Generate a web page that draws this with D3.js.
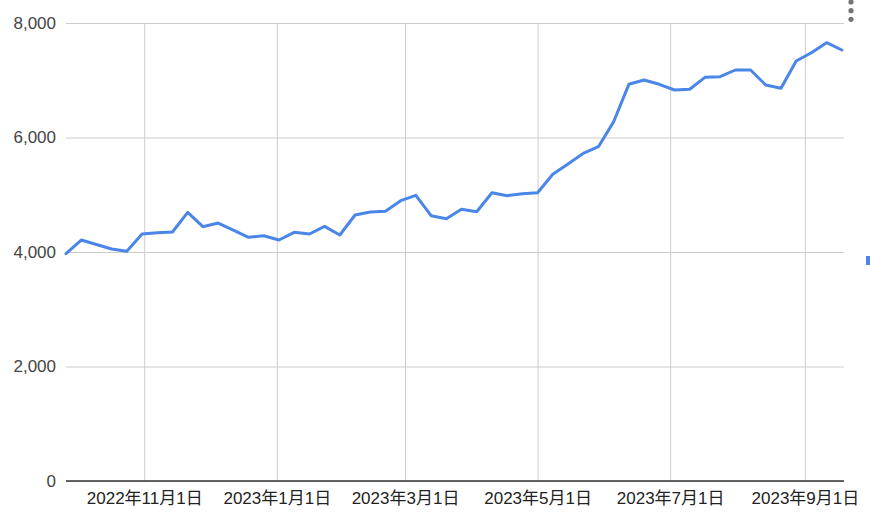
<!DOCTYPE html>
<html>
<head>
<meta charset="utf-8">
<script src="https://cdn.jsdelivr.net/npm/d3@7"></script>
<style>
  html, body { margin: 0; padding: 0; background: #fff; }
  svg { display: block; }
  text { font-family: "Liberation Sans", Arial, "Noto Sans CJK JP", sans-serif; }
</style>
</head>
<body>
<svg id="chart" width="870" height="518"></svg>
<script>
const dates = [
  "2022-09-26","2022-10-03","2022-10-10","2022-10-17","2022-10-24","2022-10-31",
  "2022-11-07","2022-11-14","2022-11-21","2022-11-28","2022-12-05","2022-12-12",
  "2022-12-19","2022-12-26","2023-01-02","2023-01-09","2023-01-16","2023-01-23",
  "2023-01-30","2023-02-06","2023-02-13","2023-02-20","2023-02-27","2023-03-06",
  "2023-03-13","2023-03-20","2023-03-27","2023-04-03","2023-04-10","2023-04-17",
  "2023-04-24","2023-05-01","2023-05-08","2023-05-15","2023-05-22","2023-05-29",
  "2023-06-05","2023-06-12","2023-06-19","2023-06-26","2023-07-03","2023-07-10",
  "2023-07-17","2023-07-24","2023-07-31","2023-08-07","2023-08-14","2023-08-21",
  "2023-08-28","2023-09-04","2023-09-11","2023-09-18"
];
const values = [
  3970, 4209, 4130, 4052, 4012, 4314,
  4337, 4349, 4693, 4442, 4506, 4384,
  4256, 4285, 4209, 4343, 4314, 4448,
  4297, 4646, 4698, 4710, 4896, 4990,
  4634, 4582, 4746, 4704, 5036, 4983,
  5018, 5036, 5357, 5537, 5723, 5839,
  6276, 6929, 7004, 6929, 6830, 6842,
  7051, 7062, 7179, 7179, 6917, 6859,
  7336, 7481, 7656, 7528
];
const xDomain = ["2022-09-26", "2023-09-19"];
const xTickDates = ["2022-11-01","2023-01-01","2023-03-01","2023-05-01","2023-07-01","2023-09-01"];
const xTickLabels = ["2022年11月1日","2023年1月1日","2023年3月1日","2023年5月1日","2023年7月1日","2023年9月1日"];
const yTicks = [0, 2000, 4000, 6000, 8000];

const parse = d3.timeParse("%Y-%m-%d");
const data = dates.map((d, i) => ({ date: parse(d), value: values[i] }));

const svg = d3.select("#chart");
const plotL = 66, plotR = 844, plotT = 23, plotB = 481;

const x = d3.scaleTime().domain(xDomain.map(parse)).range([plotL, plotR]);
const y = d3.scaleLinear().domain([0, 8000]).range([plotB, plotT]);

// horizontal gridlines + y labels
const yAxis = d3.axisLeft(y).tickValues(yTicks).tickSize(-(plotR - plotL)).tickPadding(10)
  .tickFormat(d3.format(","));
const gy = svg.append("g").attr("transform", `translate(${plotL},0)`).call(yAxis);
gy.select(".domain").remove();
gy.selectAll(".tick line").attr("stroke", "#cccccc").attr("stroke-width", 1);
gy.selectAll(".tick text").attr("fill", "#444").attr("font-size", 17);

// vertical gridlines + x labels
const xAxis = d3.axisBottom(x).tickValues(xTickDates.map(parse)).tickSize(-(plotB - plotT)).tickPadding(11)
  .tickFormat((d, i) => xTickLabels[i]);
const gx = svg.append("g").attr("transform", `translate(0,${plotB})`).call(xAxis);
gx.select(".domain").remove();
gx.selectAll(".tick line").attr("stroke", "#cccccc").attr("stroke-width", 1);
gx.selectAll(".tick text").attr("fill", "#222").attr("font-size", 17);

// baseline
svg.append("line").attr("x1", plotL).attr("x2", plotR)
  .attr("y1", y(0)).attr("y2", y(0)).attr("stroke", "#333").attr("stroke-width", 1.5);

// line
const line = d3.line().x(d => x(d.date)).y(d => y(d.value));
svg.append("path").datum(data).attr("d", line)
  .attr("fill", "none").attr("stroke", "#4a86e8").attr("stroke-width", 3)
  .attr("stroke-linejoin", "round").attr("stroke-linecap", "round");

// clipped legend swatch at right edge
svg.append("rect").attr("x", 866).attr("y", 256).attr("width", 6).attr("height", 9).attr("fill", "#4a86e8");

// menu dots
[2, 10.7, 19.3].forEach(cy => {
  svg.append("circle").attr("cx", 851).attr("cy", cy).attr("r", 2.6).attr("fill", "#757575");
});
</script>
</body>
</html>
